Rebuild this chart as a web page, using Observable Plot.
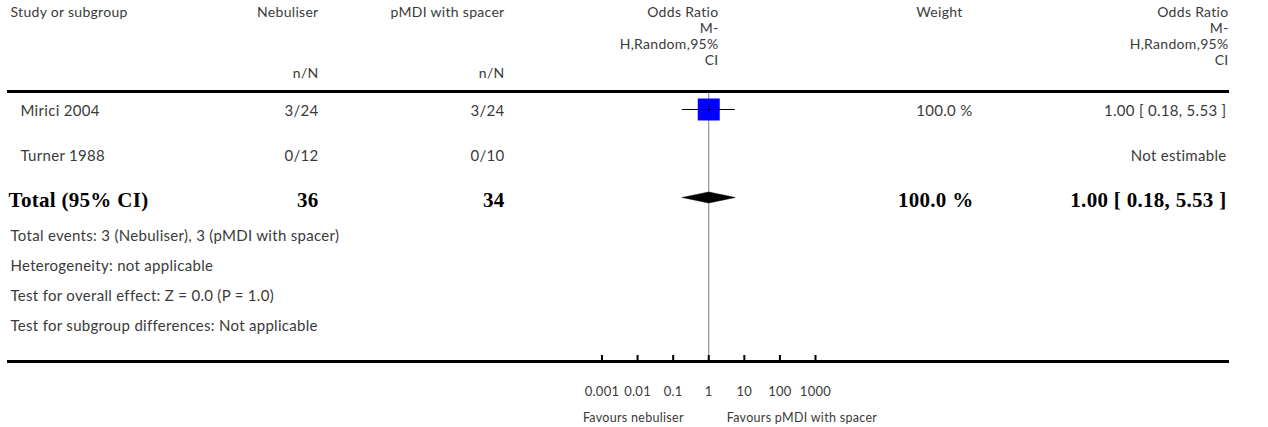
<!DOCTYPE html>
<html>
<head>
<meta charset="utf-8">
<script src="https://cdn.jsdelivr.net/npm/d3@7"></script>
<script src="https://cdn.jsdelivr.net/npm/@observablehq/plot@0.6"></script>
<style>
  html, body { margin: 0; padding: 0; background: #fff; }
  #chart svg { display: block; }
</style>
</head>
<body>
<div id="chart"></div>
<script>
// ---- data ----
const headers = ["Study or subgroup", "Nebuliser", "pMDI with spacer", "Weight"];
const orHeaderLines = ["Odds Ratio", "M-", "H,Random,95%", "CI"];
const unitLabel = "n/N";
const studies = ["Mirici 2004", "Turner 1988"];
const nebuliser = ["3/24", "0/12"];
const pmdi = ["3/24", "0/10"];
const weights = ["100.0 %", ""];
const orEst = [1.00, null];
const orLo = [0.18, null];
const orHi = [5.53, null];
const orText = ["1.00 [ 0.18, 5.53 ]", "Not estimable"];
const totalLabel = "Total (95% CI)";
const totalNeb = "36";
const totalPmdi = "34";
const totalWeight = "100.0 %";
const totalEst = 1.00, totalLo = 0.18, totalHi = 5.53;
const totalText = "1.00 [ 0.18, 5.53 ]";
const footnotes = [
  "Total events: 3 (Nebuliser), 3 (pMDI with spacer)",
  "Heterogeneity: not applicable",
  "Test for overall effect: Z = 0.0 (P = 1.0)",
  "Test for subgroup differences: Not applicable"
];
const tickValues = [0.001, 0.01, 0.1, 1, 10, 100, 1000];
const tickLabels = ["0.001", "0.01", "0.1", "1", "10", "100", "1000"];
const favours = ["Favours nebuliser", "Favours pMDI with spacer"];

// ---- layout (pixels) ----
const W = 1268, H = 427;
const rowY = {
  head: [12, 28, 44, 60], unit: 73, topLine: 91.5,
  studies: [111, 156], total: 200, foot: [236, 266, 296, 326],
  axis: 361.5, tickLab: 391, fav: 417
};
const colX = { study: 10, studyIndent: 20, neb: 318, pmdi: 504, orHead: 718, weightHead: 939, weight: 972, res: 1226, lineL: 7, lineR: 1229 };
const sans = "Lato, 'Open Sans', sans-serif";
const serif = "'Liberation Serif', 'DejaVu Serif', serif";
const grey = "#3a3a3a";
const fs = 15;
const fsHead = 14;
const fsBold = 21;

const studyRows = studies.map((s, i) => ({
  study: s, neb: nebuliser[i], pmdi: pmdi[i], w: weights[i],
  est: orEst[i], lo: orLo[i], hi: orHi[i], txt: orText[i], y: rowY.studies[i]
}));
const estRows = studyRows.filter(d => d.est != null);

const T = (data, opts) => Plot.text(data, {
  frameAnchor: "left", fontFamily: sans, fontSize: fs, fill: grey, lineAnchor: "middle", ...opts
});
const B = (data, opts) => T(data, { fontFamily: serif, fontWeight: "bold", fontSize: fsBold, fill: "black", ...opts });

const diamondH = 5.5;
const dy = rowY.total - 3;
const diamond = [
  {x: totalLo, y: dy},
  {x: totalEst, y: dy - diamondH},
  {x: totalHi, y: dy},
  {x: totalEst, y: dy + diamondH},
  {x: totalLo, y: dy}
];

const chart = Plot.plot({
  width: W, height: H,
  margin: 0,
  style: { letterSpacing: "0.3px" },
  x: { type: "log", domain: [0.001, 1000], range: [601.5, 815], axis: null },
  y: { type: "identity", axis: null },
  marks: [
    // header texts
    T([headers[0]], { y: rowY.head[0], dx: colX.study, text: d => d, fontSize: fsHead }),
    T([headers[1]], { y: rowY.head[0], dx: colX.neb, textAnchor: "end", text: d => d, fontSize: fsHead }),
    T([headers[2]], { y: rowY.head[0], dx: colX.pmdi, textAnchor: "end", text: d => d, fontSize: fsHead }),
    T([headers[3]], { y: rowY.head[0], dx: colX.weightHead, textAnchor: "middle", text: d => d, fontSize: fsHead }),
    T(orHeaderLines, { y: (d, i) => rowY.head[i], dx: colX.orHead, textAnchor: "end", text: d => d, fontSize: fsHead }),
    T(orHeaderLines, { y: (d, i) => rowY.head[i], dx: colX.res + 2, textAnchor: "end", text: d => d, fontSize: fsHead }),
    T([unitLabel], { y: rowY.unit, dx: colX.neb, textAnchor: "end", text: d => d, fontSize: fsHead }),
    T([unitLabel], { y: rowY.unit, dx: colX.pmdi, textAnchor: "end", text: d => d, fontSize: fsHead }),

    // study rows text
    T(studyRows, { y: "y", dx: colX.studyIndent, text: "study" }),
    T(studyRows, { y: "y", dx: colX.neb, textAnchor: "end", text: "neb" }),
    T(studyRows, { y: "y", dx: colX.pmdi, textAnchor: "end", text: "pmdi" }),
    T(studyRows, { y: "y", dx: colX.weight, textAnchor: "end", text: "w" }),
    T(studyRows, { y: "y", dx: colX.res, textAnchor: "end", text: "txt" }),

    // total row
    B([totalLabel], { y: rowY.total, dx: colX.study - 2, text: d => d }),
    B([totalNeb], { y: rowY.total, dx: colX.neb, textAnchor: "end", text: d => d }),
    B([totalPmdi], { y: rowY.total, dx: colX.pmdi, textAnchor: "end", text: d => d }),
    B([totalWeight], { y: rowY.total, dx: colX.weight + 1, textAnchor: "end", text: d => d }),
    B([totalText], { y: rowY.total, dx: colX.res, textAnchor: "end", text: d => d }),

    // footnotes
    T(footnotes, { y: (d, i) => rowY.foot[i], dx: colX.study, text: d => d }),

    // null line at OR = 1
    Plot.ruleX([1], { y1: rowY.topLine + 1, y2: rowY.axis, stroke: "#808080", strokeWidth: 1 }),

    // CI lines & squares
    Plot.dot(estRows, { x: "est", y: d => d.y - 2, symbol: "square", r: 12.4, fill: "#0000ff", stroke: "none" }),
    Plot.ruleY(estRows, { x1: "lo", x2: "hi", y: d => d.y - 2, stroke: "black", strokeWidth: 1.2 }),
    Plot.ruleX(estRows, { x: "est", y1: d => d.y - 5, y2: d => d.y + 1, stroke: "black", strokeWidth: 1 }),

    // diamond
    Plot.line(diamond, { x: "x", y: "y", fill: "black", stroke: "black", strokeWidth: 0.5 }),

    // axis ticks
    Plot.ruleX(tickValues, { y1: rowY.axis - 6.5, y2: rowY.axis, stroke: "black", strokeWidth: 2 }),
    Plot.text(tickValues, { x: d => d, y: rowY.tickLab, text: (d, i) => tickLabels[i], fontFamily: sans, fontSize: 13, fill: grey }),
    Plot.text([favours[0]], { x: 1, y: rowY.fav, text: d => d, textAnchor: "end", dx: -25, fontFamily: sans, fontSize: 12.5, fill: grey }),
    Plot.text([favours[1]], { x: 1, y: rowY.fav, text: d => d, textAnchor: "start", dx: 18, fontFamily: sans, fontSize: 12.5, fill: grey })
  ]
});

// full-width rules are layout (not data): draw them as plain SVG lines
const svg = d3.select(chart);
[rowY.topLine, rowY.axis].forEach(y => {
  svg.append("line").attr("x1", colX.lineL).attr("x2", colX.lineR)
    .attr("y1", y).attr("y2", y).attr("stroke", "black").attr("stroke-width", 3);
});
document.getElementById("chart").append(chart);
</script>
</body>
</html>
